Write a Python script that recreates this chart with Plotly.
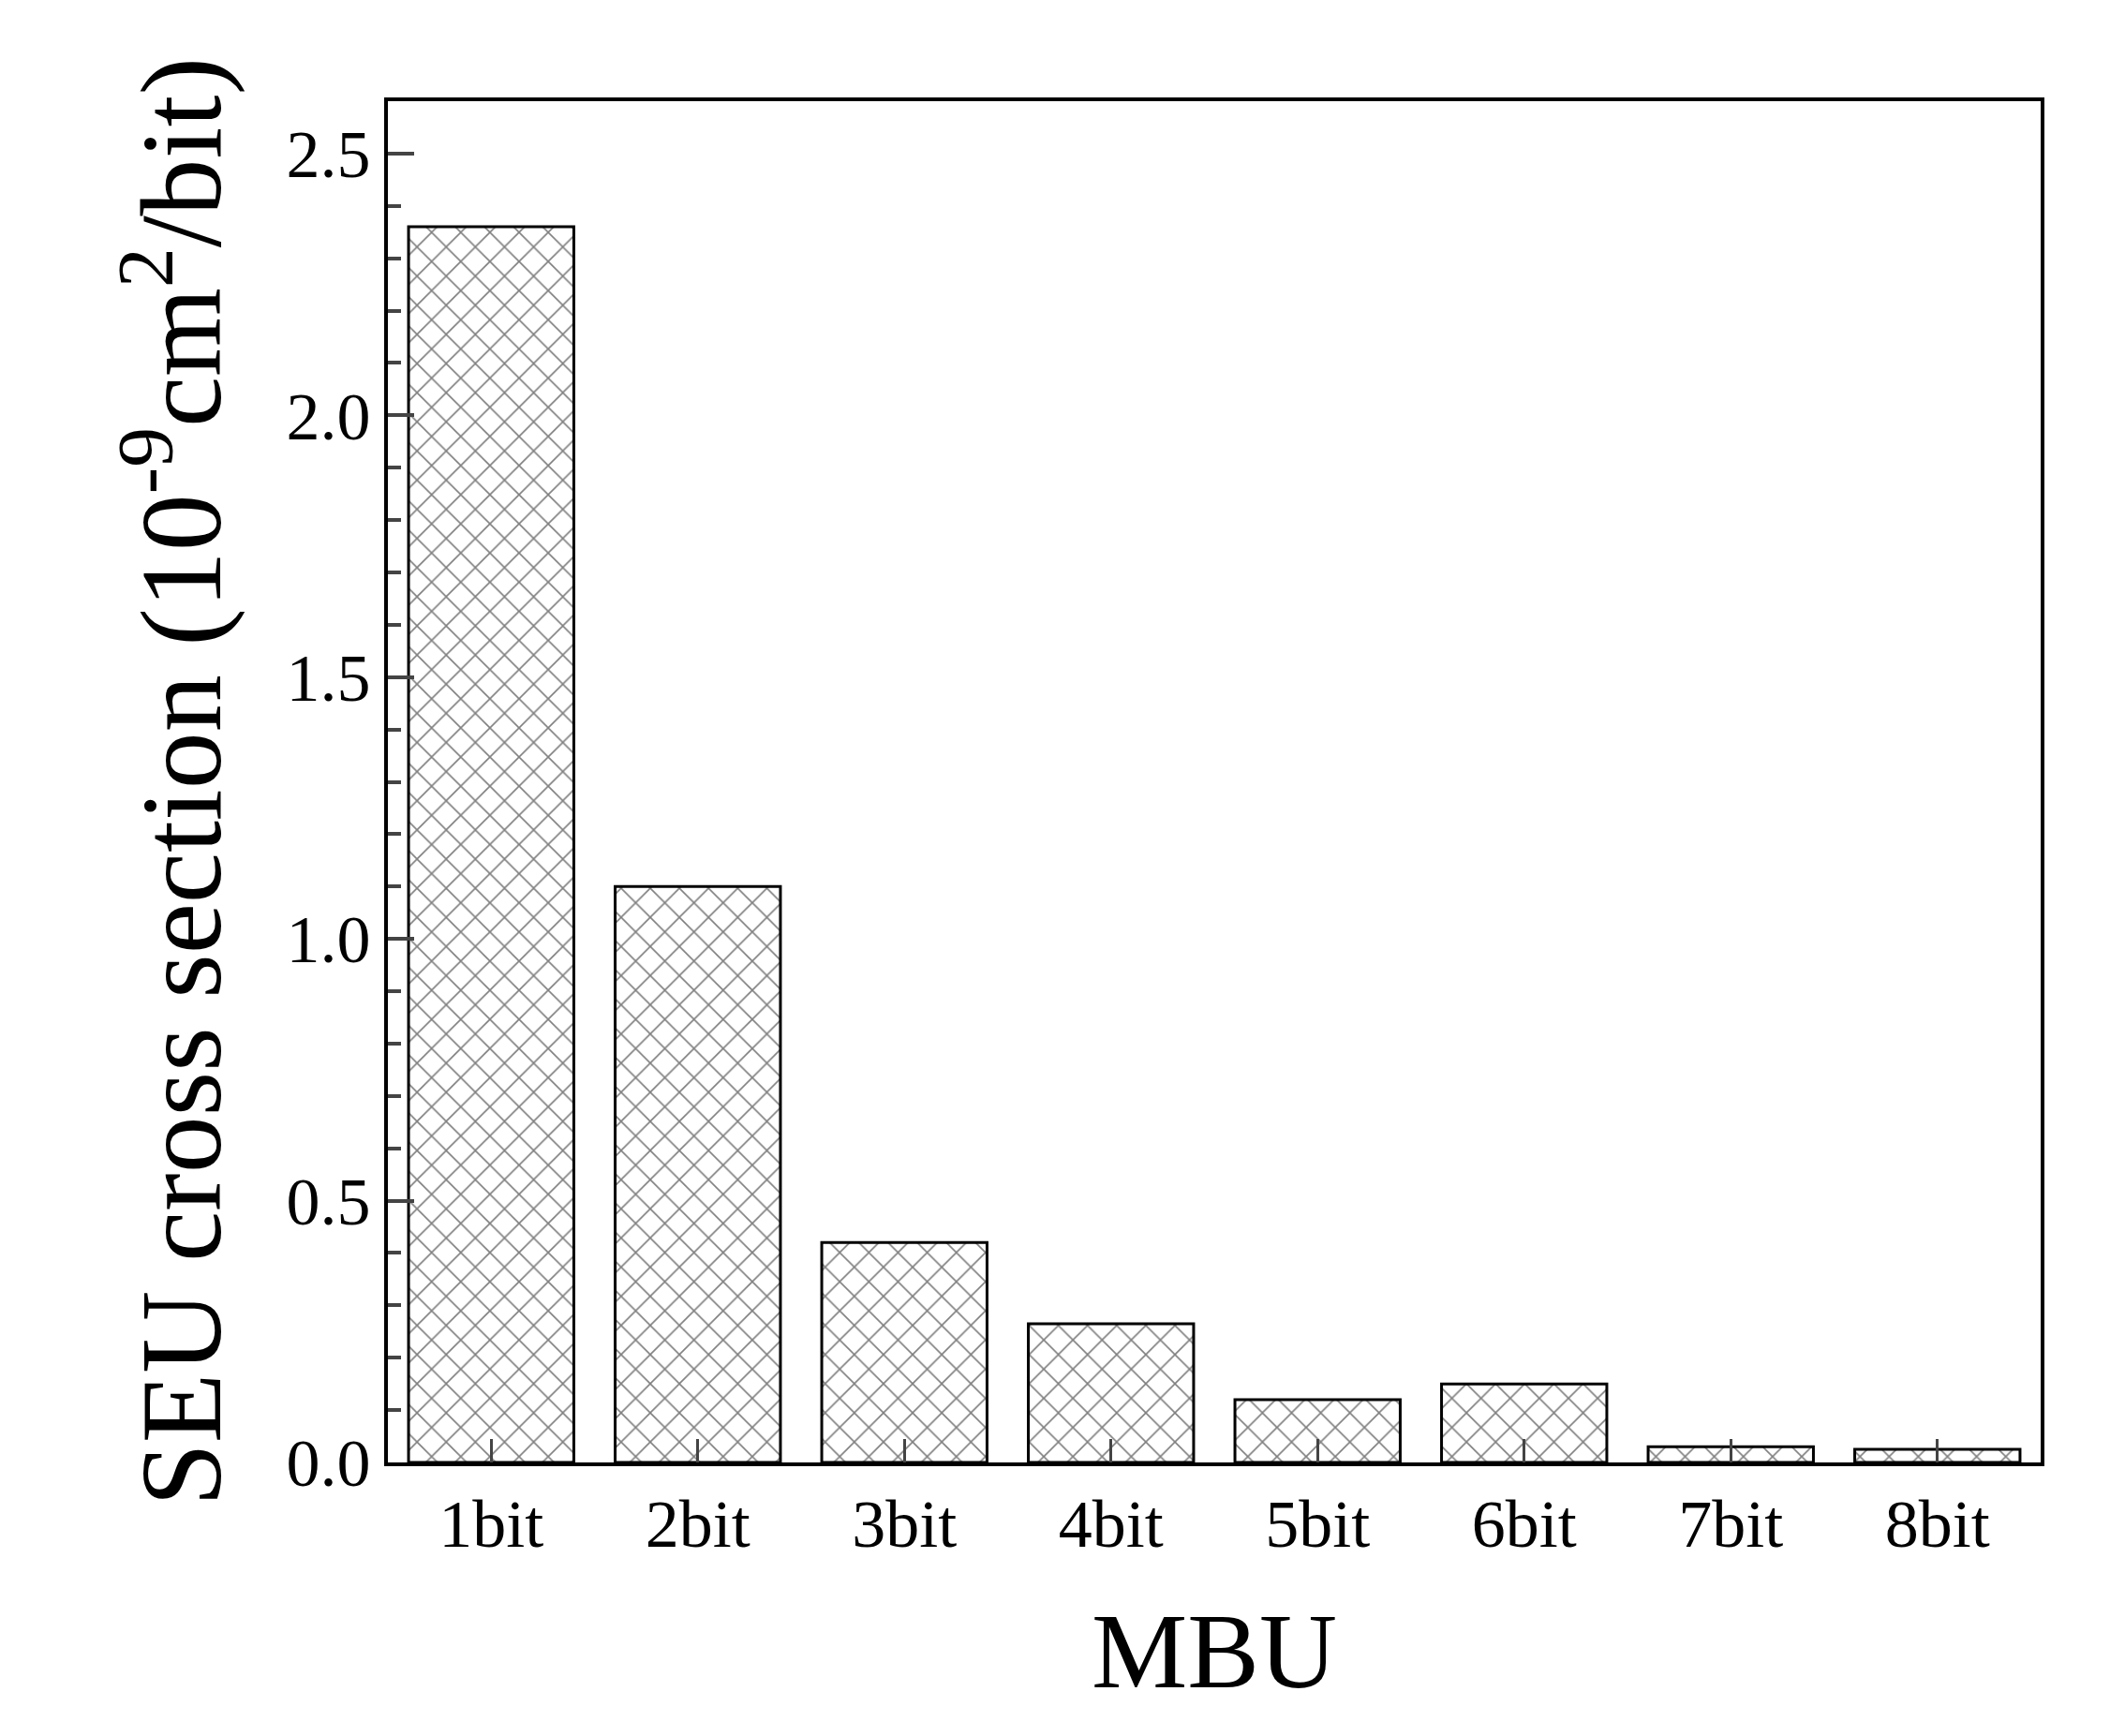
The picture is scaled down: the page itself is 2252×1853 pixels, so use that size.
import plotly.graph_objects as go

categories = ["1bit", "2bit", "3bit", "4bit", "5bit", "6bit", "7bit", "8bit"]
values = [2.36, 1.10, 0.42, 0.265, 0.12, 0.15, 0.03, 0.025]

fig = go.Figure(go.Bar(
    x=categories, y=values, width=0.8,
    marker=dict(color="white", line=dict(color="black", width=3),
                pattern=dict(shape="x", size=22, solidity=0.14, fgcolor="black", bgcolor="white")),
))
font = "Liberation Serif, Times New Roman, serif"
fig.update_layout(
    width=2252, height=1853, plot_bgcolor="white", paper_bgcolor="white",
    margin=dict(l=406, r=82, t=100, b=300), showlegend=False,
    font=dict(family=font, color="black"),
)
fig.update_xaxes(range=[-0.5, 7.5], showline=True, linewidth=4, linecolor="black", mirror=True,
                 ticks="inside", ticklen=25, tickwidth=3, tickfont=dict(size=72),
                 title=dict(text="MBU", font=dict(size=115), standoff=55))
fig.update_yaxes(range=[0, 2.6], dtick=0.5, tickformat=".1f", showline=True, linewidth=4,
                 linecolor="black", mirror=True, showgrid=False, zeroline=False,
                 ticks="inside", ticklen=28, tickwidth=4, tickfont=dict(size=72),
                 minor=dict(dtick=0.1, ticks="inside", ticklen=14, tickwidth=4, showgrid=False),
                 title=dict(text="SEU cross section (10<sup>-9</sup>cm<sup>2</sup>/bit)",
                            font=dict(size=122), standoff=30))
fig.write_html("out.html")
